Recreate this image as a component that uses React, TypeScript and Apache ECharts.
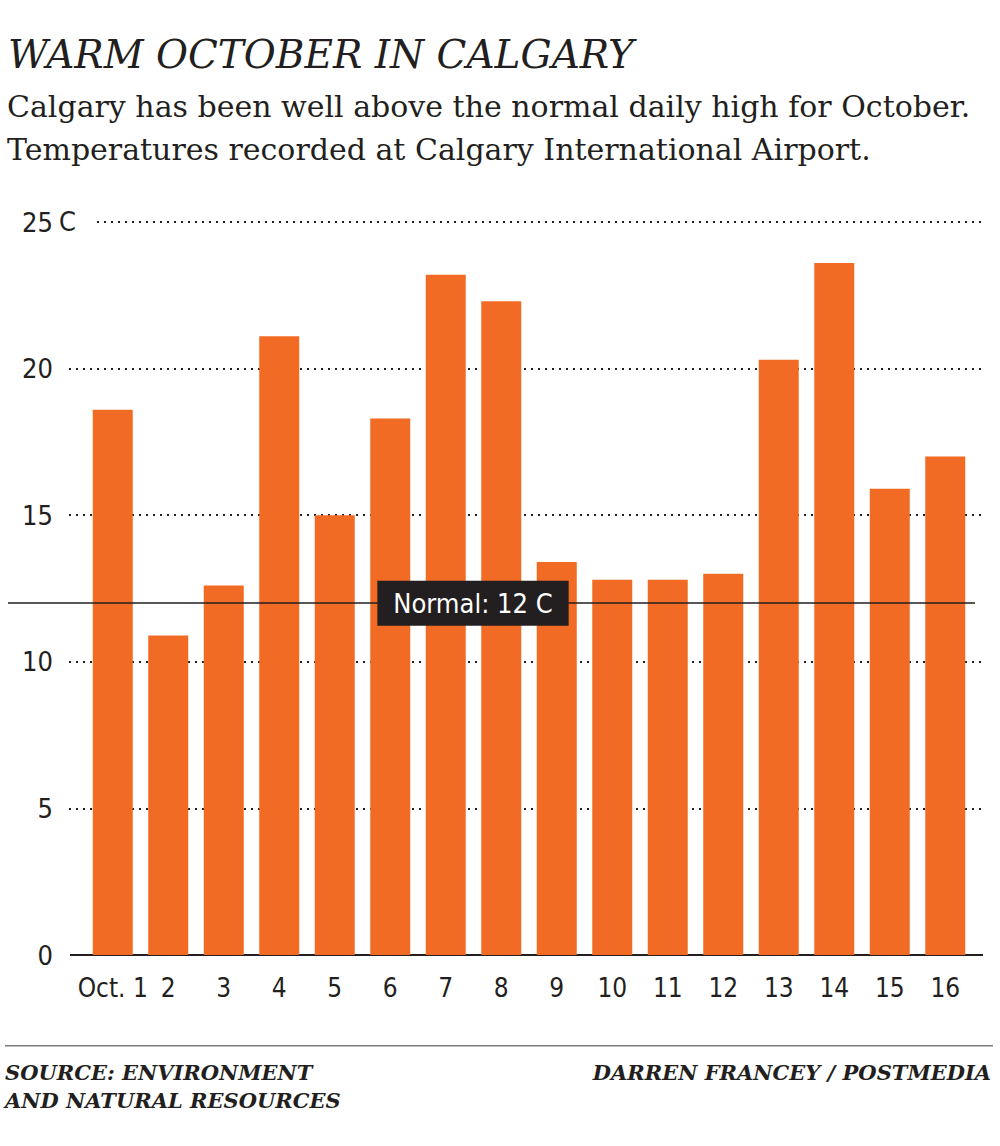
import React, { useEffect, useRef } from "react";
import * as echarts from "echarts";

const days = ["Oct. 1", "2", "3", "4", "5", "6", "7", "8", "9", "10", "11", "12", "13", "14", "15", "16"];
const highs = [18.6, 10.9, 12.6, 21.1, 15.0, 18.3, 23.2, 22.3, 13.4, 12.8, 12.8, 13.0, 20.3, 23.6, 15.9, 17.0];
const normalHigh = 12;
const gridValues = [5, 10, 15, 20, 25];
const unitText = "C";
const titleText = "WARM OCTOBER IN CALGARY";
const subtitleLines = [
  "Calgary has been well above the normal daily high for October.",
  "Temperatures recorded at Calgary International Airport.",
];
const sourceLines = ["SOURCE: ENVIRONMENT", "AND NATURAL RESOURCES"];
const creditText = "DARREN FRANCEY / POSTMEDIA";

const INK = "#231f20";
const ORANGE = "#f26b24";
const SANS = "'Liberation Sans Narrow', 'DejaVu Sans Condensed', Roboto, sans-serif";
const SERIF = "'DejaVu Serif', serif";

export default function App() {
  const ref = useRef<HTMLDivElement>(null);
  useEffect(() => {
    document.body.style.margin = "0";
    if (!ref.current) return;
    const chart = echarts.init(ref.current, undefined, { renderer: "svg" });
    const gridLines: any[] = gridValues.map((v) => [
      { x: v === 25 ? 97 : 69, yAxis: v },
      { x: 983, yAxis: v },
    ]);
    gridLines.push([
      { x: 70, yAxis: 0, lineStyle: { type: "solid", width: 2, color: INK } },
      { x: 983, yAxis: 0 },
    ]);
    chart.setOption({
      animation: false,
      backgroundColor: "#ffffff",
      grid: { left: 85, right: 27, top: 222, bottom: 191 },
      xAxis: {
        type: "category",
        data: days,
        axisLine: { show: false },
        axisTick: { show: false },
        axisLabel: { color: INK, fontFamily: SANS, fontSize: 26, margin: 20, interval: 0 },
      },
      yAxis: {
        type: "value",
        min: 0,
        max: 25,
        interval: 5,
        splitLine: { show: false },
        axisLine: { show: false },
        axisTick: { show: false },
        axisLabel: {
          color: INK,
          fontFamily: SANS,
          fontSize: 27,
          margin: 32,
        },
      },
      series: [
        {
          type: "bar",
          data: highs,
          barWidth: 40,
          itemStyle: { color: ORANGE },
          z: 2,
          markLine: {
            silent: true,
            z: 1,
            symbol: ["none", "none"],
            label: { show: false },
            lineStyle: { color: INK, width: 2, type: [2, 5], opacity: 1 },
            emphasis: { disabled: true },
            data: gridLines,
          },
        },
        {
          type: "line",
          data: [],
          z: 5,
          markLine: {
            silent: true,
            z: 5,
            symbol: ["none", "none"],
            emphasis: { disabled: true },
            data: [
              [
                { x: 8, yAxis: normalHigh, lineStyle: { color: INK, width: 1.5, type: "solid" }, label: { show: false } },
                { x: 975, yAxis: normalHigh },
              ],
              [
                {
                  x: 377,
                  yAxis: normalHigh,
                  lineStyle: { color: "rgba(0,0,0,0)", width: 0 },
                  label: {
                    show: true,
                    position: "insideMiddle",
                    formatter: "Normal: " + normalHigh + " C",
                    color: "#ffffff",
                    fontFamily: SANS,
                    fontSize: 27,
                    backgroundColor: INK,
                    padding: [9, 16, 9, 16],
                    opacity: 1,
                  },
                },
                { x: 569, yAxis: normalHigh },
              ],
            ],
          },
        },
      ],
      graphic: [
        {
          type: "text",
          left: 59,
          top: 208,
          style: { text: unitText, font: `27px ${SANS}`, fill: INK },
        },
        {
          type: "text",
          left: 8,
          top: 35,
          style: { text: titleText, font: `italic 39px ${SERIF}`, fill: INK },
        },
        {
          type: "text",
          left: 7,
          top: 91,
          style: { text: subtitleLines[0], font: `30px ${SERIF}`, fill: INK },
        },
        {
          type: "text",
          left: 7,
          top: 134,
          style: { text: subtitleLines[1], font: `30px ${SERIF}`, fill: INK },
        },
        {
          type: "rect",
          shape: { x: 5, y: 1045, width: 988, height: 1.5 },
          style: { fill: "#7a7a7a" },
        },
        {
          type: "text",
          left: 5,
          top: 1062,
          style: { text: sourceLines[0], font: `italic bold 21px ${SERIF}`, fill: INK },
        },
        {
          type: "text",
          left: 5,
          top: 1090,
          style: { text: sourceLines[1], font: `italic bold 21px ${SERIF}`, fill: INK },
        },
        {
          type: "text",
          right: 9,
          top: 1062,
          style: { text: creditText, font: `italic bold 21px ${SERIF}`, fill: INK },
        },
      ],
    });
    return () => chart.dispose();
  }, []);
  return <div ref={ref} style={{ width: 1000, height: 1146 }} />;
}
